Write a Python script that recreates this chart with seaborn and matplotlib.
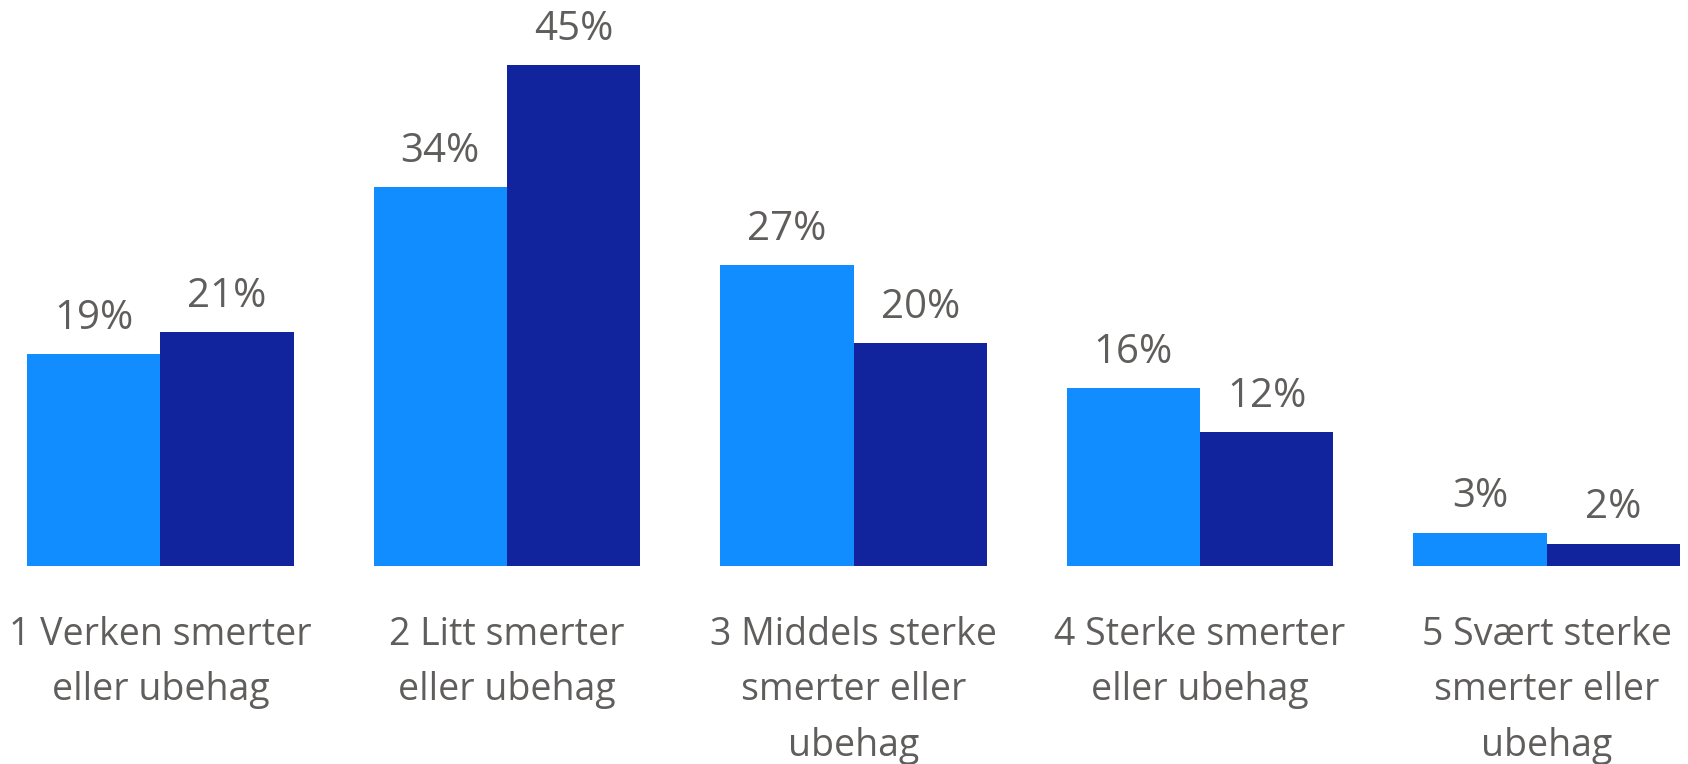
import matplotlib
matplotlib.use("Agg")
import matplotlib.pyplot as plt
import seaborn as sns
import pandas as pd

# Data
kategorier = [
    "1 Verken smerter\neller ubehag",
    "2 Litt smerter\neller ubehag",
    "3 Middels sterke\nsmerter eller\nubehag",
    "4 Sterke smerter\neller ubehag",
    "5 Svært sterke\nsmerter eller\nubehag",
]
serie_a = [19, 34, 27, 16, 3]
serie_b = [21, 45, 20, 12, 2]
serier = ["Serie 1", "Serie 2"]

farge_lys = "#118DFF"
farge_mork = "#12239E"
tekstfarge = "#605E5C"

df = pd.DataFrame({
    "Kategori": kategorier * 2,
    "Andel": serie_a + serie_b,
    "Serie": [serier[0]] * len(kategorier) + [serier[1]] * len(kategorier),
})

sns.set_theme(style="white")
plt.rcParams["font.family"] = ["Open Sans", "DejaVu Sans"]

fig = plt.figure(figsize=(16.88, 7.64), dpi=100)
ax = fig.add_axes([27 / 1688, 198 / 764, 1653 / 1688, 566 / 764])

sns.barplot(
    data=df, x="Kategori", y="Andel", hue="Serie",
    palette=[farge_lys, farge_mork], width=0.77, gap=0,
    saturation=1, legend=False, linewidth=0, ax=ax,
)

for cont in ax.containers:
    ax.bar_label(cont, fmt="%d%%", padding=11, fontsize=29, color=tekstfarge)

ax.set_xlim(-0.385, 4.385)
ax.set_ylim(0, 45 * 566 / 501)
ax.set_xlabel("")
ax.set_ylabel("")
ax.set_yticks([])
ax.tick_params(axis="x", length=0, pad=36, labelsize=27, labelcolor=tekstfarge)
for lbl in ax.get_xticklabels():
    lbl.set_linespacing(1.6)
sns.despine(ax=ax, left=True, bottom=True)

fig.savefig("out.png", dpi=100)
plt.close(fig)
